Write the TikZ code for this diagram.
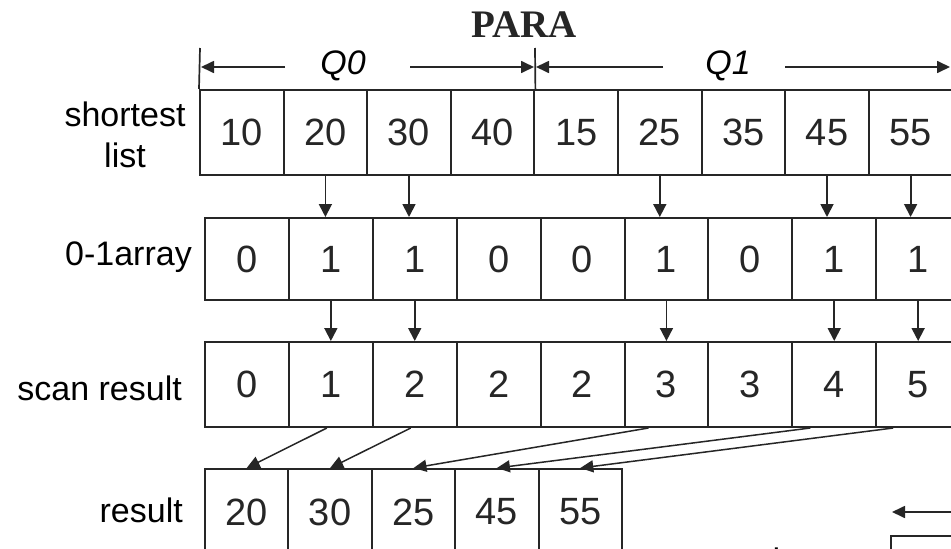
\documentclass[tikz,border=0pt]{standalone}
\usepackage{fontspec}
\setmainfont{Liberation Serif}
\setsansfont{Liberation Sans}
\usetikzlibrary{arrows.meta}
\begin{document}
\begin{tikzpicture}[x=1pt,y=-1pt,
  lbl/.style={font=\sffamily\fontsize{34}{41}\selectfont, inner sep=0pt, align=center},
  cell/.style={draw=black!85, line width=2pt, font=\sffamily\fontsize{38}{44}\selectfont, minimum height=85pt, inner sep=0pt, text=black!85},
  arr/.style={draw=black!85, line width=1.8pt, -{Triangle[length=13pt,width=13pt]}},
  darr/.style={draw=black!85, line width=1.5pt, -{Triangle[length=13pt,width=12pt]}},
  dim/.style={draw=black!85, line width=1.7pt, -{Triangle[length=13pt,width=12pt]}},
  tick/.style={draw=black!85, line width=1.7pt}]
\useasboundingbox (0,0) rectangle (951,549);
\clip (0,0) rectangle (951,549);
\fill[white] (0,0) rectangle (951,549);

% title
\node[font=\bfseries\fontsize{39}{42}\selectfont, inner sep=0pt, text=black!85] (para) at (524,25) {PARA};

% rows
\foreach \v [count=\i] in {10,20,30,40,15,25,35,45,55}
  \node[cell, minimum width=83.6pt] (a\i) at ({200+83.6*(\i-0.5)},132.5) {\v};
\foreach \v [count=\i] in {0,1,1,0,0,1,0,1,1}
  \node[cell, minimum width=83.9pt, minimum height=82pt] (b\i) at ({205+83.9*(\i-0.5)},259) {\v};
\foreach \v [count=\i] in {0,1,2,2,2,3,3,4,5}
  \node[cell, minimum width=83.9pt] (c\i) at ({205+83.9*(\i-0.5)},384.5) {\v};
\foreach \v [count=\i] in {20,30,25,45,55}
  \node[cell, minimum width=83.4pt, minimum height=86pt] (d\i) at ({205+83.4*(\i-0.5)},512) {\v};

% row labels
\node[lbl] (l1) at (125,135) {shortest\\list};
\node[lbl, anchor=base east] (l2) at (192,265) {0-1array};
\node[lbl, anchor=base east] (l3) at (182,400) {scan result};
\node[lbl, anchor=base east] (l4) at (183,522) {result};

% dimension lines Q0 / Q1
\node[font=\sffamily\itshape\fontsize{34}{40}\selectfont, inner sep=0pt] (q0) at (343,66) {Q0};
\node[font=\sffamily\itshape\fontsize{34}{40}\selectfont, inner sep=0pt] (q1) at (728,66) {Q1};
\coordinate (k0) at (200,48);
\coordinate (k1) at (535,48);
\draw[tick] (k0) -- (a1.north west);
\draw[tick] (k1) -- (a4.north east);
\coordinate (q0l) at (201,67);
\coordinate (q0a) at (285,67);
\coordinate (q0b) at (410,67);
\coordinate (q0r) at (534,67);
\coordinate (q1l) at (536,67);
\coordinate (q1a) at (663,67);
\coordinate (q1b) at (785,67);
\coordinate (q1r) at (950,67);
\draw[dim] (q0a) -- (q0l);
\draw[dim] (q0b) -- (q0r);
\draw[dim] (q1a) -- (q1l);
\draw[dim] (q1b) -- (q1r);

% vertical arrows
\foreach \i in {2,3,6,8,9} {
  \draw[arr] (a\i.south) -- (a\i.south |- b\i.north);
  \draw[arr] (b\i.south) -- (c\i.north);
}

% scatter arrows
\draw[darr] ([xshift=-4pt]c2.south) -- (d1.north);
\draw[darr] ([xshift=-4pt]c3.south) -- (d2.north);
\draw[darr] ([xshift=-18pt]c6.south) -- (d3.north);
\draw[darr] ([xshift=-24pt]c8.south) -- (d4.north);
\draw[darr] ([xshift=-25pt]c9.south) -- (d5.north);

% partial next block at bottom right
\coordinate (pr) at (952,512);
\coordinate (pl) at (892,512);
\draw[dim] (pr) -- (pl);
\node[draw=black!85, line width=2pt, minimum width=84pt, minimum height=85pt, inner sep=0pt] (e1) at (933,578.5) {};
\node[lbl] (l5) at (816,581) {shortest\\list};
\end{tikzpicture}
\end{document}
